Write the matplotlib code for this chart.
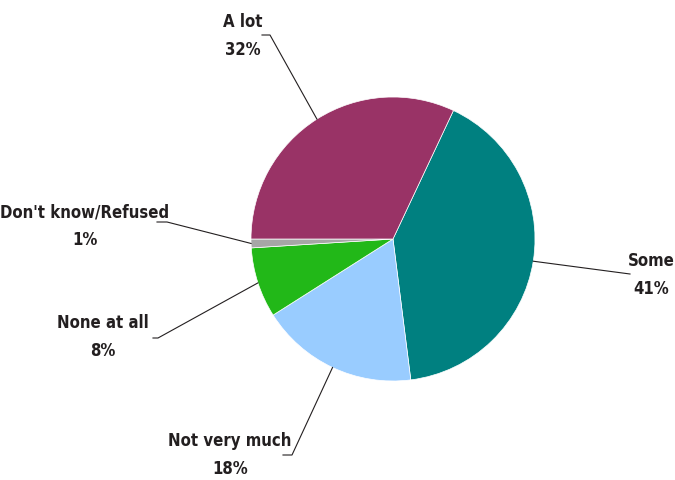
import numpy as np
import matplotlib.pyplot as plt

# slice data, in drawing order (clockwise from the top right)
labels = ['Some', 'Not very much', 'None at all', "Don't know/Refused", 'A lot']
values = [41, 18, 8, 1, 32]
colors = ['#008080', '#99ccff', '#22b818', '#a6a6a6', '#993366']

# where each label sits (pixels from top left) and the elbow of its leader
label_xy = [(651, 275), (230, 455), (103, 337), (85, 226), (243, 36)]
elbow_xy = [[(630, 275)], [(292, 456), (283, 456)], [(158, 339), (153, 339)],
            [(167, 223), (157, 223)], [(270, 36), (262, 36)]]

W, H = 675, 481
fig = plt.figure(figsize=(6.75, 4.81), dpi=100)
ax = fig.add_axes([0, 0, 1, 1])

cx, cy, r = 393, H - 240, 142
wedges, _ = ax.pie(values, colors=colors, startangle=64.8, counterclock=False,
                   center=(cx, cy), radius=r, frame=True,
                   wedgeprops=dict(edgecolor='white', linewidth=0.5))
ax.set_xlim(0, W)
ax.set_ylim(0, H)
ax.set_aspect('equal')
ax.axis('off')

txtcolor = '#231f20'
for w, lab, v, (lx, ly), elbow in zip(wedges, labels, values, label_xy, elbow_xy):
    ang = np.deg2rad((w.theta1 + w.theta2) / 2)
    px = cx + r * np.cos(ang)
    py = cy + r * np.sin(ang)
    xs = [px] + [e[0] for e in elbow]
    ys = [py] + [H - e[1] for e in elbow]
    ax.plot(xs, ys, color='#231f20', lw=0.8)
    ax.text(lx, H - ly, f'{lab}\n{v}%', ha='center', va='center',
            fontsize=12, fontweight='bold', fontstretch='condensed',
            color=txtcolor, family='DejaVu Sans', linespacing=1.65)

fig.savefig('out.png', dpi=100)
